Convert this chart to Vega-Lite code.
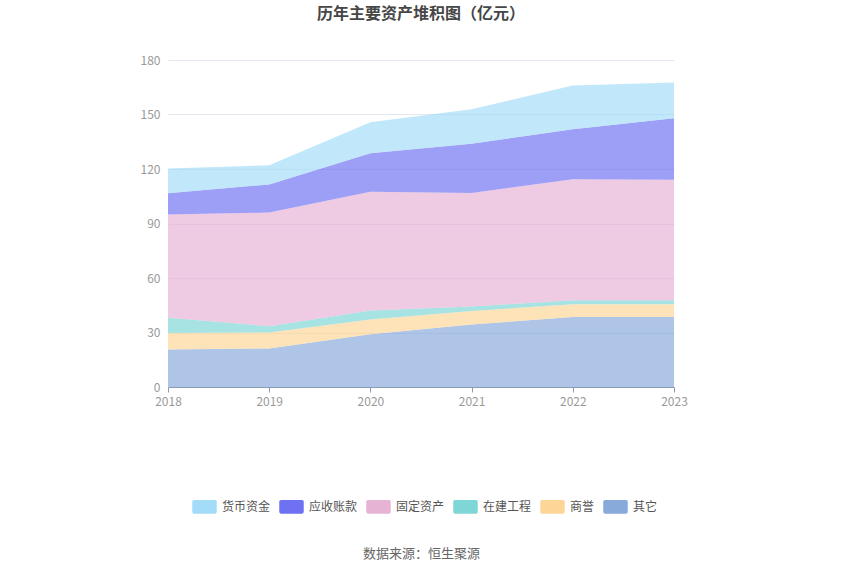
{
  "$schema": "https://vega.github.io/schema/vega-lite/v6.json",
  "width": 506,
  "height": 327,
  "autosize": {"type": "none"},
  "padding": {"left": 168, "top": 60, "right": 176, "bottom": 187},
  "background": "white",
  "title": {
    "text": "历年主要资产堆积图（亿元）",
    "font": "Noto Sans CJK SC",
    "fontSize": 16,
    "fontWeight": "bold",
    "color": "#464646",
    "anchor": "middle",
    "offset": 32
  },
  "data": {
    "values": [
      {"year": "2018", "item": "其它", "value": 20.7},
      {"year": "2018", "item": "商誉", "value": 9.0},
      {"year": "2018", "item": "在建工程", "value": 8.4},
      {"year": "2018", "item": "固定资产", "value": 56.8},
      {"year": "2018", "item": "应收账款", "value": 11.7},
      {"year": "2018", "item": "货币资金", "value": 13.7},
      {"year": "2019", "item": "其它", "value": 21.2},
      {"year": "2019", "item": "商誉", "value": 8.8},
      {"year": "2019", "item": "在建工程", "value": 3.5},
      {"year": "2019", "item": "固定资产", "value": 62.5},
      {"year": "2019", "item": "应收账款", "value": 15.5},
      {"year": "2019", "item": "货币资金", "value": 10.5},
      {"year": "2020", "item": "其它", "value": 29.1},
      {"year": "2020", "item": "商誉", "value": 8.1},
      {"year": "2020", "item": "在建工程", "value": 4.9},
      {"year": "2020", "item": "固定资产", "value": 65.4},
      {"year": "2020", "item": "应收账款", "value": 21.2},
      {"year": "2020", "item": "货币资金", "value": 17.1},
      {"year": "2021", "item": "其它", "value": 34.4},
      {"year": "2021", "item": "商誉", "value": 7.4},
      {"year": "2021", "item": "在建工程", "value": 2.5},
      {"year": "2021", "item": "固定资产", "value": 62.5},
      {"year": "2021", "item": "应收账款", "value": 27.1},
      {"year": "2021", "item": "货币资金", "value": 19.0},
      {"year": "2022", "item": "其它", "value": 38.5},
      {"year": "2022", "item": "商誉", "value": 7.1},
      {"year": "2022", "item": "在建工程", "value": 2.2},
      {"year": "2022", "item": "固定资产", "value": 66.5},
      {"year": "2022", "item": "应收账款", "value": 27.6},
      {"year": "2022", "item": "货币资金", "value": 24.0},
      {"year": "2023", "item": "其它", "value": 38.6},
      {"year": "2023", "item": "商誉", "value": 7.0},
      {"year": "2023", "item": "在建工程", "value": 2.2},
      {"year": "2023", "item": "固定资产", "value": 66.3},
      {"year": "2023", "item": "应收账款", "value": 33.9},
      {"year": "2023", "item": "货币资金", "value": 19.6}
    ]
  },
  "transform": [
    {"calculate": "indexof(['其它','商誉','在建工程','固定资产','应收账款','货币资金'], datum.item)", "as": "k"}
  ],
  "mark": {"type": "area", "opacity": 0.68, "line": false},
  "encoding": {
    "x": {
      "field": "year",
      "type": "ordinal",
      "scale": {"type": "point", "padding": 0},
      "axis": {
        "title": "数据来源：恒生聚源",
        "titleFont": "Noto Sans CJK SC",
        "titleFontSize": 13,
        "titleFontWeight": "normal",
        "titleColor": "#666666",
        "titlePadding": 140,
        "labelAngle": 0,
        "labelFont": "Noto Sans CJK SC",
        "labelFontSize": 12,
        "labelColor": "#999999",
        "labelPadding": 4,
        "domainColor": "#8c9bb5",
        "tickColor": "#8c9bb5",
        "tickSize": 5,
        "grid": false
      }
    },
    "y": {
      "field": "value",
      "type": "quantitative",
      "stack": "zero",
      "scale": {"domain": [0, 180], "nice": false},
      "axis": {
        "title": null,
        "values": [0, 30, 60, 90, 120, 150, 180],
        "labelFont": "Noto Sans CJK SC",
        "labelFontSize": 12,
        "labelColor": "#999999",
        "labelPadding": 8,
        "domain": false,
        "ticks": false,
        "gridColor": "#e3e7f0",
        "gridWidth": 1
      }
    },
    "color": {
      "field": "item",
      "type": "nominal",
      "scale": {
        "domain": ["货币资金", "应收账款", "固定资产", "在建工程", "商誉", "其它"],
        "range": ["#a3dcf8", "#6e72f2", "#e6b3d5", "#7fd6d6", "#fdd597", "#87aadb"]
      },
      "legend": {
        "title": null,
        "orient": "none",
        "direction": "horizontal",
        "legendX": 24,
        "legendY": 434,
        "symbolType": "M-0.85,-0.56H0.85A0.15,0.15 0 0 1 1,-0.41V0.41A0.15,0.15 0 0 1 0.85,0.56H-0.85A0.15,0.15 0 0 1 -1,0.41V-0.41A0.15,0.15 0 0 1 -0.85,-0.56Z",
        "symbolSize": 600,
        "symbolOpacity": 1,
        "symbolStrokeWidth": 0,
        "labelFont": "Noto Sans CJK SC",
        "labelFontSize": 12,
        "labelColor": "#555555",
        "labelOffset": 5,
        "columnPadding": 8
      }
    },
    "order": {"field": "k", "type": "quantitative", "sort": "ascending"}
  },
  "config": {
    "view": {"stroke": null}
  }
}
